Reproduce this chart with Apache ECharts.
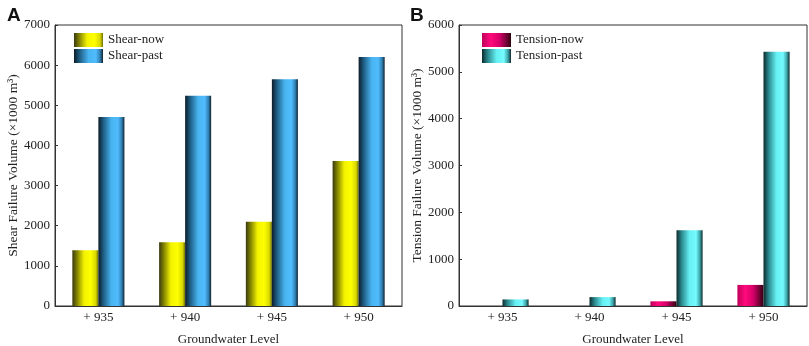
<!DOCTYPE html>
<html>
<head>
<meta charset="utf-8">
<script src="https://cdn.jsdelivr.net/npm/echarts@6/dist/echarts.min.js"></script>
<style>
html,body{margin:0;padding:0;background:#fff;}
#chart{width:809px;height:346px;}
</style>
</head>
<body>
<div id="chart"></div>
<script>
const categories = ['+ 935', '+ 940', '+ 945', '+ 950'];
const shearNow = [1390, 1590, 2100, 3610];
const shearPast = [4710, 5240, 5650, 6200];
const tensionNow = [0, 0, 100, 450];
const tensionPast = [140, 190, 1620, 5430];
const shearTicks = [0, 7000, 1000];
const tensionTicks = [0, 6000, 1000];

function grad(stops) {
  return new echarts.graphic.LinearGradient(0, 0, 1, 0,
    stops.map(s => ({offset: s[0], color: s[1]})));
}
const yellowG = grad([[0,'#3a3a10'],[0.2,'#8a8a00'],[0.45,'#f2f200'],[0.7,'#ffff00'],[0.9,'#d8d800'],[1,'#707000']]);
const blueG = grad([[0,'#0c1c28'],[0.2,'#1f5f86'],[0.5,'#48b4f0'],[0.75,'#50bcff'],[0.9,'#2f7fb0'],[1,'#0c2030']]);
const pinkG = grad([[0,'#c0005a'],[0.3,'#ff0a7c'],[0.6,'#d8006a'],[0.85,'#700034'],[1,'#30000f']]);
const cyanG = grad([[0,'#0c2a2c'],[0.2,'#2a8a8e'],[0.5,'#66f0f4'],[0.75,'#74faff'],[0.9,'#3aa0a4'],[1,'#0c2a2c']]);

const font = 'Liberation Serif';
const txt = {fontFamily: font, fontSize: 13, color: '#222'};

function yAxis(gridIndex, ticks, name) {
  return {
    type: 'value', gridIndex: gridIndex,
    min: ticks[0], max: ticks[1], interval: ticks[2],
    name: name, nameLocation: 'middle', nameGap: 34,
    nameTextStyle: Object.assign({}, txt, {fontSize: 13.5}),
    axisLine: {show: true, lineStyle: {color: '#333', width: 1}},
    axisTick: {show: true, inside: true, length: 3, lineStyle: {color: '#333'}},
    axisLabel: Object.assign({margin: 5, formatter: v => String(v)}, txt),
    splitLine: {show: false}
  };
}
function xAxis(gridIndex) {
  return {
    type: 'category', gridIndex: gridIndex, data: categories,
    name: 'Groundwater Level', nameLocation: 'middle', nameGap: 27,
    nameTextStyle: Object.assign({}, txt),
    axisLine: {show: true, lineStyle: {color: '#333', width: 1}},
    axisTick: {show: false},
    axisLabel: Object.assign({margin: 5}, txt)
  };
}
function bar(name, data, idx, color) {
  return {
    name: name, type: 'bar', data: data,
    xAxisIndex: idx, yAxisIndex: idx,
    barWidth: '30%', barGap: '0%',
    itemStyle: {color: color},
    emphasis: {disabled: true}
  };
}
const legendBase = {orient: 'vertical', itemWidth: 29, itemHeight: 14, itemGap: 2, padding: 0, icon: 'rect', textStyle: Object.assign({}, txt), selectedMode: false};

const chart = echarts.init(document.getElementById('chart'), null, {renderer: 'canvas'});
chart.setOption({
  animation: false,
  backgroundColor: '#fff',
  title: [
    {text: 'A', left: 2, top: 1, textStyle: {fontFamily: 'Liberation Sans', fontWeight: 'bold', fontSize: 19, color: '#111'}},
    {text: 'B', left: 405, top: 1, textStyle: {fontFamily: 'Liberation Sans', fontWeight: 'bold', fontSize: 19, color: '#111'}}
  ],
  grid: [
    {left: 55, top: 25, width: 347, height: 281, show: true, borderColor: '#333', borderWidth: 1, backgroundColor: 'transparent', containLabel: false, outerBoundsMode: 'none'},
    {left: 459, top: 25, width: 348, height: 281, show: true, borderColor: '#333', borderWidth: 1, backgroundColor: 'transparent', containLabel: false, outerBoundsMode: 'none'}
  ],
  legend: [
    Object.assign({data: ['Shear-now', 'Shear-past'], left: 74, top: 33}, legendBase),
    Object.assign({data: ['Tension-now', 'Tension-past'], left: 482, top: 33}, legendBase)
  ],
  xAxis: [xAxis(0), xAxis(1)],
  yAxis: [
    yAxis(0, shearTicks, 'Shear Failure Volume (×1000 m³)'),
    yAxis(1, tensionTicks, 'Tension Failure Volume (×1000 m³)')
  ],
  series: [
    bar('Shear-now', shearNow, 0, yellowG),
    bar('Shear-past', shearPast, 0, blueG),
    bar('Tension-now', tensionNow, 1, pinkG),
    bar('Tension-past', tensionPast, 1, cyanG)
  ]
});
</script>
</body>
</html>
